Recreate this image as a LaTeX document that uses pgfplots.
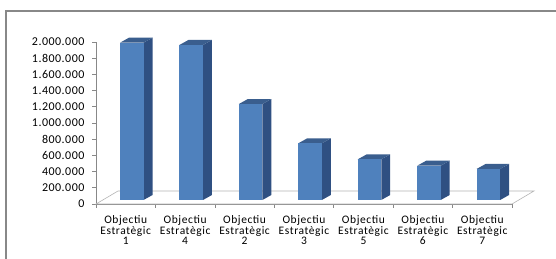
\documentclass[border=0pt]{standalone}
\usepackage{fontspec}
\setmainfont{Carlito}
\usepackage{pgfplots}
\pgfplotsset{compat=1.18}
\definecolor{barfront}{HTML}{4F81BD}
\definecolor{barside}{HTML}{2F5082}
\definecolor{bartop}{HTML}{3A5E8E}
\definecolor{axgray}{HTML}{888888}
\definecolor{floorgray}{HTML}{B4B4B4}
\newfontfamily\labfont[LetterSpace=5]{Carlito}
\newfontfamily\numfont[LetterSpace=4]{Carlito}
\begin{document}
\begin{tikzpicture}
\useasboundingbox (0pt,0pt) rectangle (556pt,259pt);
\draw[draw=axgray, line width=1.2pt] (6pt,0pt) -- (6pt,248pt) -- (556pt,248pt);
\begin{axis}[
  at={(96pt,55pt)}, anchor=south west,
  scale only axis, width=416pt, height=162pt,
  xmin=0, xmax=7, ymin=0, ymax=2000000,
  clip=false,
  axis lines*=left,
  axis line style={draw=axgray, line width=0.6pt},
  tick align=outside,
  major tick length=4pt,
  tick style={draw=axgray, line width=0.6pt},
  xtick={0,1,...,7}, xticklabels={},
  extra x ticks={0.5,1.5,...,6.5},
  extra x tick labels={{Objectiu\\Estratègic\\1},{Objectiu\\Estratègic\\4},{Objectiu\\Estratègic\\2},{Objectiu\\Estratègic\\3},{Objectiu\\Estratègic\\5},{Objectiu\\Estratègic\\6},{Objectiu\\Estratègic\\7}},
  extra x tick style={major tick length=0pt, xticklabel style={align=center, font=\labfont\fontsize{11.5}{10.5}\selectfont, yshift=-8pt}},
  ytick={0,200000,...,2000000},
  scaled y ticks=false,
  yticklabel style={/pgf/number format/fixed, /pgf/number format/precision=0, /pgf/number format/1000 sep={.}, /pgf/number format/assume math mode=true, font=\numfont\fontsize{12}{13}\selectfont, xshift=-4pt},
]
% floor
\addplot[draw=floorgray, line width=0.6pt, fill=white] coordinates {(0,0) (0.370,160494) (7.370,160494) (7,0)} -- cycle;
% bar 1 (Objectiu Estrategic 1), value 1942000, base 49400, top 1991400
\addplot[draw=none, fill=barside] coordinates {(0.800,49400) (0.951,111100) (0.951,2053100) (0.800,1991400)} -- cycle;
\addplot[draw=none, fill=bartop] coordinates {(0.404,1991400) (0.800,1991400) (0.951,2053100) (0.555,2053100)} -- cycle;
\addplot[draw=none, fill=barfront] coordinates {(0.404,49400) (0.800,49400) (0.800,1991400) (0.404,1991400)} -- cycle;
% bar 2 (4), value 1914000
\addplot[draw=none, fill=barside] coordinates {(1.800,49400) (1.951,111100) (1.951,2025100) (1.800,1963400)} -- cycle;
\addplot[draw=none, fill=bartop] coordinates {(1.404,1963400) (1.800,1963400) (1.951,2025100) (1.555,2025100)} -- cycle;
\addplot[draw=none, fill=barfront] coordinates {(1.404,49400) (1.800,49400) (1.800,1963400) (1.404,1963400)} -- cycle;
% bar 3 (2), value 1185000
\addplot[draw=none, fill=barside] coordinates {(2.800,49400) (2.951,111100) (2.951,1296100) (2.800,1234400)} -- cycle;
\addplot[draw=none, fill=bartop] coordinates {(2.404,1234400) (2.800,1234400) (2.951,1296100) (2.555,1296100)} -- cycle;
\addplot[draw=none, fill=barfront] coordinates {(2.404,49400) (2.800,49400) (2.800,1234400) (2.404,1234400)} -- cycle;
% bar 4 (3), value 700000
\addplot[draw=none, fill=barside] coordinates {(3.800,49400) (3.951,111100) (3.951,811100) (3.800,749400)} -- cycle;
\addplot[draw=none, fill=bartop] coordinates {(3.404,749400) (3.800,749400) (3.951,811100) (3.555,811100)} -- cycle;
\addplot[draw=none, fill=barfront] coordinates {(3.404,49400) (3.800,49400) (3.800,749400) (3.404,749400)} -- cycle;
% bar 5 (5), value 502000
\addplot[draw=none, fill=barside] coordinates {(4.800,49400) (4.951,111100) (4.951,613100) (4.800,551400)} -- cycle;
\addplot[draw=none, fill=bartop] coordinates {(4.404,551400) (4.800,551400) (4.951,613100) (4.555,613100)} -- cycle;
\addplot[draw=none, fill=barfront] coordinates {(4.404,49400) (4.800,49400) (4.800,551400) (4.404,551400)} -- cycle;
% bar 6 (6), value 423000
\addplot[draw=none, fill=barside] coordinates {(5.800,49400) (5.951,111100) (5.951,534100) (5.800,472400)} -- cycle;
\addplot[draw=none, fill=bartop] coordinates {(5.404,472400) (5.800,472400) (5.951,534100) (5.555,534100)} -- cycle;
\addplot[draw=none, fill=barfront] coordinates {(5.404,49400) (5.800,49400) (5.800,472400) (5.404,472400)} -- cycle;
% bar 7 (7), value 383000
\addplot[draw=none, fill=barside] coordinates {(6.800,49400) (6.951,111100) (6.951,494100) (6.800,432400)} -- cycle;
\addplot[draw=none, fill=bartop] coordinates {(6.404,432400) (6.800,432400) (6.951,494100) (6.555,494100)} -- cycle;
\addplot[draw=none, fill=barfront] coordinates {(6.404,49400) (6.800,49400) (6.800,432400) (6.404,432400)} -- cycle;
\end{axis}
\end{tikzpicture}
\end{document}
